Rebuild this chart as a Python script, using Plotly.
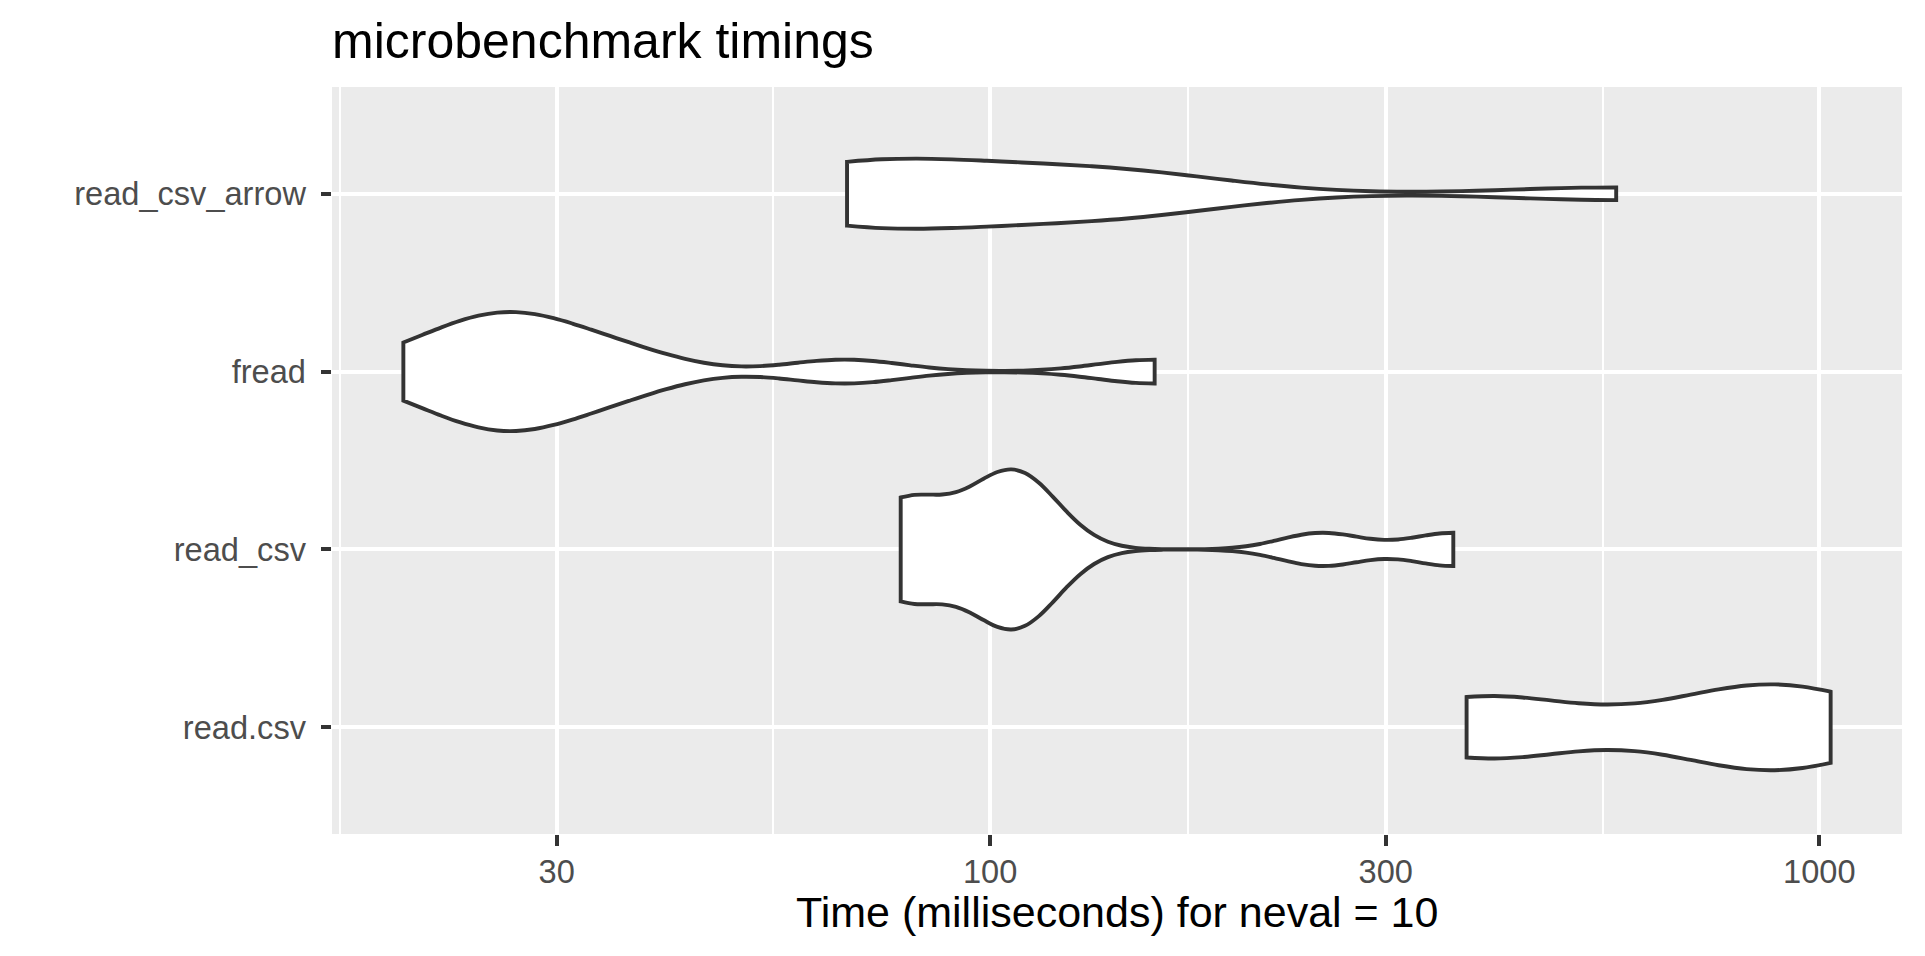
import numpy as np
import plotly.graph_objects as go

# ---------------- data (timings in milliseconds, 10 evaluations each) ----------------
categories = ["read.csv", "read_csv", "fread", "read_csv_arrow"]  # bottom -> top

read_csv_arrow_ms = [67.2, 67.8, 68.9, 71.6, 90.2, 109.6, 127.4, 146.2, 167.9, 568.9]
fread_ms = [19.6, 22.6, 24.5, 26.0, 27.2, 29.2, 32.7, 37.6, 66.8, 157.9]
read_csv_ms = [78.0, 78.9, 80.4, 100.0, 104.7, 107.2, 109.6, 112.2, 251.2, 361.9]
read_dot_csv_ms = [375.5, 380.2, 390.8, 448.7, 724.4, 794.3, 851.1, 912.0, 966.1, 1032.0]

tick_values_ms = [30, 100, 300, 1000]
tick_labels = ["30", "100", "300", "1000"]

title_text = "microbenchmark timings"
x_title_text = "Time (milliseconds) for neval = 10"

series = {
    "read.csv": read_dot_csv_ms,
    "read_csv": read_csv_ms,
    "fread": fread_ms,
    "read_csv_arrow": read_csv_arrow_ms,
}

FONT = "Liberation Sans, Arial, sans-serif"


def nrd0(x):
    """R's default bandwidth (bw.nrd0), as used by ggplot2's violin."""
    x = np.asarray(x, dtype=float)
    sd = np.std(x, ddof=1)
    q75, q25 = np.percentile(x, [75, 25])
    lo = min(sd, (q75 - q25) / 1.34)
    if lo <= 0:
        lo = sd
    return 0.9 * lo * len(x) ** -0.2


fig = go.Figure()
all_log = []
for cat in categories:
    logv = np.log10(np.asarray(series[cat], dtype=float))  # log10 scale, like scale_x_log10
    all_log.extend(logv.tolist())
    fig.add_trace(
        go.Violin(
            x=logv,
            y=[cat] * len(logv),
            orientation="h",
            name=cat,
            bandwidth=nrd0(logv),
            spanmode="hard",
            scalegroup="all",
            scalemode="width",
            fillcolor="white",
            line=dict(color="#333333", width=3.9),
            points=False,
            box_visible=False,
            meanline_visible=False,
            showlegend=False,
            hoverinfo="skip",
        )
    )

# x range: data range + 5% expansion (ggplot default)
lo, hi = min(all_log), max(all_log)
pad = 0.05 * (hi - lo)
x_range = [lo - pad, hi + pad]

major = np.log10(tick_values_ms)
step = major[1] - major[0]
ext = np.concatenate([[major[0] - step], major, [major[-1] + step]])
minor = [(a + b) / 2 for a, b in zip(ext[:-1], ext[1:])]
minor = [m for m in minor if x_range[0] <= m <= x_range[1]]

# the page body adds an 8px offset, so the figure fills the rest of the window
W, H = 1917, 948
ML, MR, MT, MB = 324, 23, 79, 122
plot_h = H - MT - MB
plot_w = W - ML - MR

fig.update_layout(
    width=W,
    height=H,
    margin=dict(l=ML, r=MR, t=MT, b=MB, pad=0),
    paper_bgcolor="white",
    plot_bgcolor="#EBEBEB",
    violinmode="overlay",
    violingap=0.1,
    violingroupgap=0,
    font=dict(family=FONT),
    title=dict(
        text=title_text,
        x=ML / W,
        xref="container",
        xanchor="left",
        y=1 - 32 / H,
        yref="container",
        yanchor="middle",
        font=dict(size=50, color="black", family=FONT),
    ),
    xaxis=dict(
        type="linear",
        range=x_range,
        tickvals=major.tolist(),
        ticktext=tick_labels,
        showgrid=True,
        gridcolor="white",
        gridwidth=4,
        zeroline=False,
        showline=False,
        ticks="outside",
        ticklen=10.5,
        tickwidth=4,
        tickcolor="#333333",
        ticklabelstandoff=-2,
        tickfont=dict(size=32.6, color="#4D4D4D", family=FONT),
        minor=dict(tickvals=minor, showgrid=True, gridcolor="white", gridwidth=2, ticks=""),
    ),
    yaxis=dict(
        type="category",
        categoryorder="array",
        categoryarray=categories,
        range=[-0.6, len(categories) - 0.4],
        showgrid=True,
        gridcolor="white",
        gridwidth=4,
        zeroline=False,
        showline=False,
        ticks="outside",
        ticklen=10.5,
        tickwidth=4,
        tickcolor="#333333",
        ticklabelstandoff=8,
        tickfont=dict(size=32.6, color="#4D4D4D", family=FONT),
    ),
    annotations=[
        dict(
            text=x_title_text,
            xref="paper",
            x=0.5,
            xanchor="center",
            yref="paper",
            y=(H - MB - 904) / plot_h,
            yanchor="middle",
            showarrow=False,
            font=dict(size=43, color="black", family=FONT),
        )
    ],
    shapes=[
        dict(type="rect", xref="paper", yref="paper",
             x0=(W - 2 - ML) / plot_w, x1=(W - ML) / plot_w,
             y0=-MB / plot_h, y1=(H - MB) / plot_h,
             fillcolor="#EEEEEE", line=dict(width=0), layer="above"),
    ],
)

fig.write_html("out.html")
